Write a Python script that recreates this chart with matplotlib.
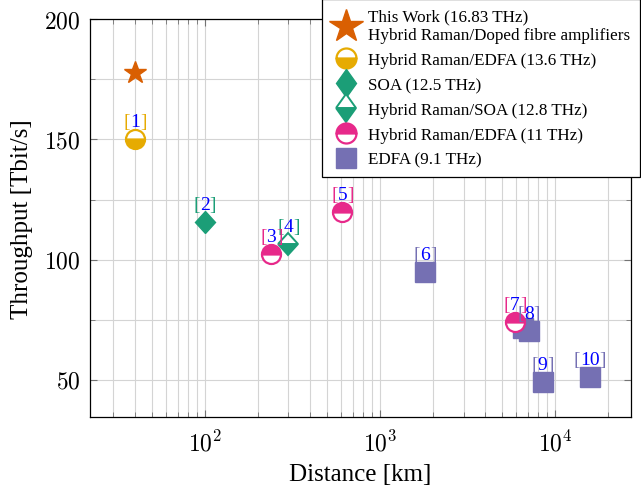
import numpy as np
import matplotlib
matplotlib.use("Agg")
from matplotlib import pyplot as plt
from matplotlib.lines import Line2D
from matplotlib.markers import MarkerStyle
from matplotlib.transforms import Affine2D
from matplotlib.ticker import FixedLocator, LogLocator, MultipleLocator, FuncFormatter, NullFormatter

plt.rcParams["font.family"] = ["Liberation Serif", "DejaVu Serif"]
plt.rcParams["mathtext.fontset"] = "cm"

# colours (Dark2)
c_star = "#d95f02"
c_orange = "#e6ab02"
c_teal = "#1b9e77"
c_pink = "#e7298a"
c_purple = "#7570b3"

# data
star_dist = [40]
star_tp = [177.6]

edfa136_dist = [40]
edfa136_tp = [150]
edfa136_ref = [1]

soa_dist = [100]
soa_tp = [115.6]
soa_ref = [2]

rsoa_dist = [300]
rsoa_tp = [106.7]
rsoa_ref = [4]

edfa11_dist = [240, 610, 5900]
edfa11_tp = [102.2, 119.8, 74.1]
edfa11_ref = [3, 5, 7]

edfa_dist = [1810, 6550, 7060, 8480, 15800]
edfa_tp = [94.8, 71.4, 70.5, 49.1, 51.1]
edfa_ref = [6, None, 8, 9, 10]

fig = plt.figure(figsize=(6.41, 4.89), dpi=100)
ax = fig.add_axes([90 / 641, 1 - 418.3 / 489, 540.7 / 641, 398 / 489])
ax.set_xscale("log")
ax.set_xlim(22.1, 27000)
ax.set_ylim(34.4, 200)

diamond = Affine2D().scale(0.83, 1.0)
circ_ms = 13.7
sq_ms = 14.4
d_ms = 11.7

ax.plot(edfa_dist, edfa_tp, ls="none", marker="s", ms=sq_ms, color=c_purple, mec=c_purple, zorder=3)
ax.plot(edfa11_dist, edfa11_tp, ls="none", marker="o", ms=circ_ms, color=c_pink,
        fillstyle="top", markerfacecoloralt="white", mec=c_pink, mew=1.6, zorder=4)
ax.plot(edfa136_dist, edfa136_tp, ls="none", marker="o", ms=circ_ms, color=c_orange,
        fillstyle="bottom", markerfacecoloralt="white", mec=c_orange, mew=1.6, zorder=4)
ax.plot(soa_dist, soa_tp, ls="none", marker=MarkerStyle("D", transform=diamond), ms=d_ms,
        color=c_teal, mec=c_teal, zorder=4)
ax.plot(rsoa_dist, rsoa_tp, ls="none", marker=MarkerStyle("D", fillstyle="bottom", transform=diamond),
        ms=d_ms, color=c_teal, markerfacecoloralt="white", mec=c_teal, mew=1.4, zorder=4)
ax.plot(star_dist, star_tp, ls="none", marker="*", ms=16.6, color=c_star, mec=c_star, zorder=4)


def cite(x, y, n, color):
    num = ax.annotate(str(n), (x, y), xytext=(0, 6.5), textcoords="offset points",
                      ha="center", va="bottom", color="blue", fontsize=14, zorder=6)
    ax.annotate("[", xy=(0, 0), xycoords=num, ha="right", va="bottom", color=color,
                fontsize=14, zorder=6)
    ax.annotate("]", xy=(1, 0), xycoords=num, ha="left", va="bottom", color=color,
                fontsize=14, zorder=6)


for d, t, r in zip(edfa_dist, edfa_tp, edfa_ref):
    if r is not None:
        cite(d, t, r, c_purple)
for d, t, r in zip(soa_dist, soa_tp, soa_ref):
    cite(d, t, r, c_teal)
for d, t, r in zip(rsoa_dist, rsoa_tp, rsoa_ref):
    cite(d, t, r, c_teal)
for d, t, r in zip(edfa136_dist, edfa136_tp, edfa136_ref):
    cite(d, t, r, c_orange)
for d, t, r in zip(edfa11_dist, edfa11_tp, edfa11_ref):
    cite(d, t, r, c_pink)

# axes, ticks, grid
ax.xaxis.set_major_locator(FixedLocator([1e2, 1e3, 1e4]))
ax.xaxis.set_minor_locator(LogLocator(base=10, subs=np.arange(2, 10), numticks=20))
ax.xaxis.set_major_formatter(FuncFormatter(lambda v, p: r"$\mathrm{10^{%d}}$" % round(np.log10(v))))
ax.xaxis.set_minor_formatter(NullFormatter())
ax.yaxis.set_major_locator(MultipleLocator(50))
ax.yaxis.set_minor_locator(MultipleLocator(25))
ax.yaxis.set_major_formatter(FuncFormatter(lambda v, p: r"$\mathrm{%d}$" % v))

ax.grid(True, which="both", color="#d4d4d4", lw=0.8, zorder=0)
ax.set_axisbelow(True)
ax.tick_params(which="both", direction="in", top=True, right=True, color="0.45", labelsize=17)
ax.tick_params(which="major", length=5, width=0.8)
ax.tick_params(which="minor", length=3.5, width=0.6)
ax.tick_params(axis="x", pad=9)
ax.tick_params(axis="y", pad=7)
for s in ax.spines.values():
    s.set_linewidth(0.9)

ax.set_xlabel("Distance [km]", fontsize=18, labelpad=6)
ax.set_ylabel("Throughput [Tbit/s]", fontsize=18, labelpad=8)

# legend
handles = [
    Line2D([], [], ls="none", marker="*", ms=25, color=c_star),
    Line2D([], [], ls="none", marker="o", ms=14.4, color=c_orange, fillstyle="bottom",
           markerfacecoloralt="white", mec=c_orange, mew=1.6),
    Line2D([], [], ls="none", marker=MarkerStyle("D", transform=Affine2D().scale(0.71, 1.0)),
           ms=14, color=c_teal),
    Line2D([], [], ls="none", marker=MarkerStyle("D", fillstyle="bottom", transform=Affine2D().scale(0.71, 1.0)),
           ms=14, color=c_teal, markerfacecoloralt="white", mec=c_teal, mew=1.4),
    Line2D([], [], ls="none", marker="o", ms=14.4, color=c_pink, fillstyle="top",
           markerfacecoloralt="white", mec=c_pink, mew=1.6),
    Line2D([], [], ls="none", marker="s", ms=14.4, color=c_purple),
]
labels = [
    "This Work (16.83 THz)\nHybrid Raman/Doped fibre amplifiers",
    "Hybrid Raman/EDFA (13.6 THz)",
    "SOA (12.5 THz)",
    "Hybrid Raman/SOA (12.8 THz)",
    "Hybrid Raman/EDFA (11 THz)",
    "EDFA (9.1 THz)",
]
leg = fig.legend(handles, labels, loc="upper right", bbox_to_anchor=(640 / 641, 0.999),
                 fontsize=12.3, frameon=True, fancybox=False, framealpha=1, edgecolor="black",
                 handlelength=1.7, handletextpad=0.45, labelspacing=0.52, borderpad=0.55,
                 borderaxespad=0)
leg.get_frame().set_linewidth(0.9)
leg.set_zorder(10)

fig.savefig("out.png", dpi=100)
